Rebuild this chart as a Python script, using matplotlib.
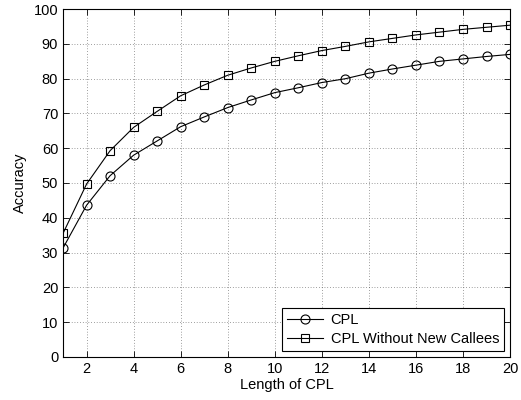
import numpy as np
import matplotlib
matplotlib.use("Agg")
import matplotlib.pyplot as plt

# Accuracy vs. CPL length
cpl_length = list(range(1, 21))
acc_cpl = [31.3, 43.6, 52.1, 58.0, 62.1, 66.2, 69.0, 71.7, 73.9, 76.0,
           77.4, 78.9, 80.0, 81.6, 82.8, 83.9, 85.0, 85.7, 86.4, 87.0]
acc_no_new = [35.5, 49.7, 59.3, 66.0, 70.6, 75.1, 78.2, 81.0, 83.1, 85.0,
              86.6, 88.1, 89.3, 90.6, 91.6, 92.6, 93.4, 94.2, 94.8, 95.4]

plt.rcParams["font.family"] = ["Liberation Sans", "DejaVu Sans"]

fig = plt.figure(figsize=(5.21, 4.00), dpi=100)
ax = fig.add_axes([0.121, 0.108, 0.858, 0.869])

ax.plot(cpl_length, acc_cpl, color="black", lw=0.8, marker="o",
        markersize=6.5, fillstyle="none", markeredgewidth=0.8, label="CPL")
ax.plot(cpl_length, acc_no_new, color="black", lw=0.8, marker="s",
        markersize=5.5, fillstyle="none", markeredgewidth=0.8,
        label="CPL Without New Callees")

ax.set_xlim(1, 20)
ax.set_ylim(0, 100)
ax.set_xticks(range(2, 21, 2))
ax.set_yticks(range(0, 101, 10))
ax.grid(True, linestyle=(0, (1, 3)), color="#444444", linewidth=0.5)
ax.tick_params(direction="in", top=True, right=True, labelsize=10.5,
               length=4, width=0.6)
for sp in ax.spines.values():
    sp.set_linewidth(0.8)

ax.set_xlabel("Length of CPL", fontsize=10.5, labelpad=2)
ax.set_ylabel("Accuracy", fontsize=10.5, labelpad=5)

leg = ax.legend(loc="lower right", fontsize=10.5, fancybox=False,
                edgecolor="black", framealpha=1, borderaxespad=0.4,
                handlelength=2.5, labelspacing=0.3, borderpad=0.35,
                handletextpad=0.5)
leg.get_frame().set_linewidth(0.8)

fig.savefig("out.png", dpi=100)
